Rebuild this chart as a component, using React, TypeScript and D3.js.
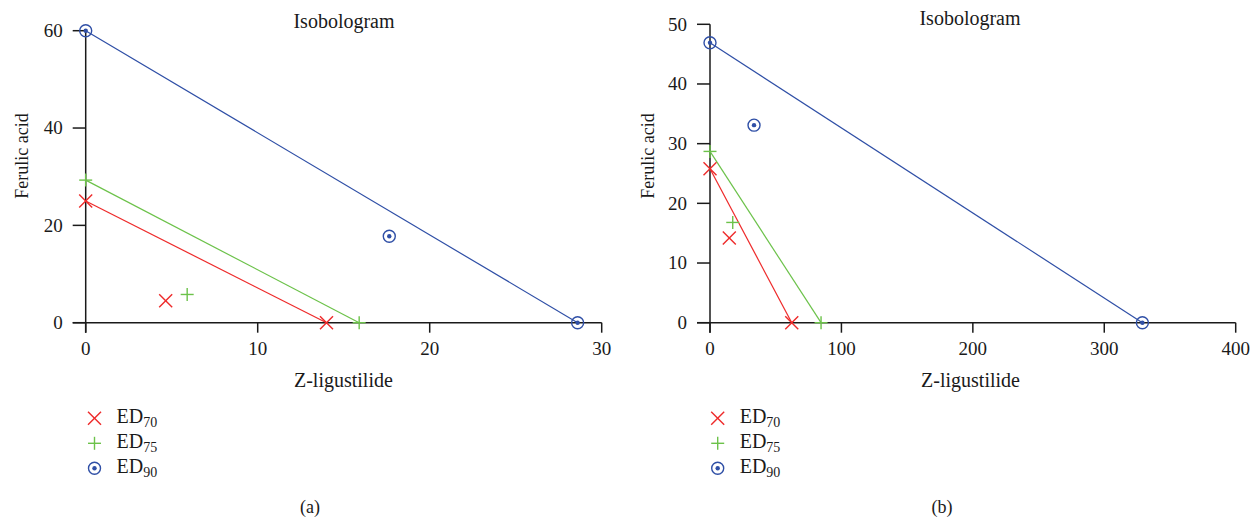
import * as d3 from 'd3'

const W = 1260
const H = 525
const FONT = "'Liberation Serif', 'DejaVu Serif', 'Times New Roman', serif"

const RED = '#ee2a2a'
const GREEN = '#6cc24a'
const BLUE = '#2f4fa6'
const AXIS = '#1a1a1a'

// Panel (a): isobole endpoints and combination points
const A_X_TICKS = [0, 10, 20, 30]
const A_Y_TICKS = [0, 20, 40, 60]
const A_ED70_LINE = [[0, 25], [14, 0]]
const A_ED75_LINE = [[0, 29.3], [15.9, 0]]
const A_ED90_LINE = [[0, 60], [28.6, 0]]
const A_ED70_PT = [4.65, 4.5]
const A_ED75_PT = [5.9, 5.8]
const A_ED90_PT = [17.65, 17.75]

// Panel (b)
const B_X_TICKS = [0, 100, 200, 300, 400]
const B_Y_TICKS = [0, 10, 20, 30, 40, 50]
const B_ED70_LINE = [[0, 25.8], [62.2, 0]]
const B_ED75_LINE = [[0, 28.7], [84.5, 0]]
const B_ED90_LINE = [[0, 46.9], [329, 0]]
const B_ED70_PT = [14.7, 14.2]
const B_ED75_PT = [17.3, 16.8]
const B_ED90_PT = [33.5, 33.1]

const LEGEND = [
  { kind: 'x', color: RED, sub: '70' },
  { kind: '+', color: GREEN, sub: '75' },
  { kind: 'o', color: BLUE, sub: '90' },
]

function Marker({ kind, x, y, color }: { kind: string; x: number; y: number; color: string }) {
  if (kind === 'x') {
    const s = 6.5
    return (
      <g stroke={color} strokeWidth={1.4}>
        <line x1={x - s} y1={y - s} x2={x + s} y2={y + s} />
        <line x1={x - s} y1={y + s} x2={x + s} y2={y - s} />
      </g>
    )
  }
  if (kind === '+') {
    const s = 6.5
    return (
      <g stroke={color} strokeWidth={1.4}>
        <line x1={x - s} y1={y} x2={x + s} y2={y} />
        <line x1={x} y1={y - s} x2={x} y2={y + s} />
      </g>
    )
  }
  return (
    <g>
      <circle cx={x} cy={y} r={6} fill="none" stroke={color} strokeWidth={1.4} />
      <circle cx={x} cy={y} r={2.2} fill={color} />
    </g>
  )
}

type PanelProps = {
  x0: number
  x1: number
  yTop: number
  xMax: number
  yMax: number
  xTicks: number[]
  yTicks: number[]
  lines: { pts: number[][]; color: string; kind: string }[]
  pts: { p: number[]; color: string; kind: string }[]
  titleX: number
  titleY: number
  labelX: number
  yLabelX: number
  legendX: number
  caption: string
  captionX: number
}

function Panel(p: PanelProps) {
  const x = d3.scaleLinear().domain([0, p.xMax]).range([p.x0, p.x1])
  const y = d3.scaleLinear().domain([0, p.yMax]).range([322.7, p.yTop])
  const bottom = y(0)
  const left = x(0)
  return (
    <g style={{ fontFamily: FONT }} fill="#1a1a1a">
      <text x={p.titleX} y={p.titleY} textAnchor="middle" fontSize={20}>Isobologram</text>

      {/* axes */}
      <line x1={left} y1={y(p.yMax)} x2={left} y2={bottom + 10} stroke={AXIS} strokeWidth={1.5} />
      <line x1={left - 13} y1={bottom} x2={x(p.xMax)} y2={bottom} stroke={AXIS} strokeWidth={1.5} />
      {p.yTicks.map((t) => (
        <g key={'y' + t}>
          <line x1={left - 13} x2={left} y1={y(t)} y2={y(t)} stroke={AXIS} strokeWidth={1.5} />
          <text x={left - 23} y={y(t)} dy="0.33em" textAnchor="end" fontSize={19}>{t}</text>
        </g>
      ))}
      {p.xTicks.map((t) => (
        <g key={'x' + t}>
          <line x1={x(t)} x2={x(t)} y1={bottom} y2={bottom + 10} stroke={AXIS} strokeWidth={1.5} />
          <text x={x(t)} y={bottom + 32.5} textAnchor="middle" fontSize={19}>{t}</text>
        </g>
      ))}
      <text x={p.labelX} y={386.7} textAnchor="middle" fontSize={20}>Z-ligustilide</text>
      <text transform={`translate(${p.yLabelX},156) rotate(-90)`} textAnchor="middle" fontSize={18}>Ferulic acid</text>

      {/* isoboles */}
      {p.lines.map((l, i) => (
        <path
          key={'l' + i}
          d={d3.line<number[]>().x((d) => x(d[0])).y((d) => y(d[1]))(l.pts) || ''}
          stroke={l.color}
          strokeWidth={1.2}
          fill="none"
        />
      ))}
      {p.lines.map((l, i) =>
        l.pts.map((d, j) => <Marker key={'m' + i + j} kind={l.kind} x={x(d[0])} y={y(d[1])} color={l.color} />)
      )}
      {p.pts.map((d, i) => (
        <Marker key={'p' + i} kind={d.kind} x={x(d.p[0])} y={y(d.p[1])} color={d.color} />
      ))}

      {/* legend */}
      {LEGEND.map((l, i) => (
        <g key={'lg' + i}>
          <Marker kind={l.kind} x={p.legendX} y={418.3 + i * 25} color={l.color} />
          <text x={p.legendX + 22} y={422.5 + i * 25} fontSize={20}>
            ED<tspan fontSize={14} dy={4}>{l.sub}</tspan>
          </text>
        </g>
      ))}

      <text x={p.captionX} y={513} textAnchor="middle" fontSize={18}>{p.caption}</text>
    </g>
  )
}

export default function App() {
  return (
    <svg
      width={W}
      height={H}
      viewBox={`0 0 ${W} ${H}`}
      style={{ position: 'absolute', left: 0, top: 0, background: '#fff' }}
    >
      <rect width={W} height={H} fill="#fff" />
      <Panel
        x0={85.7}
        x1={601.7}
        yTop={30.7}
        xMax={30}
        yMax={60}
        xTicks={A_X_TICKS}
        yTicks={A_Y_TICKS}
        lines={[
          { pts: A_ED90_LINE, color: BLUE, kind: 'o' },
          { pts: A_ED75_LINE, color: GREEN, kind: '+' },
          { pts: A_ED70_LINE, color: RED, kind: 'x' },
        ]}
        pts={[
          { p: A_ED70_PT, color: RED, kind: 'x' },
          { p: A_ED75_PT, color: GREEN, kind: '+' },
          { p: A_ED90_PT, color: BLUE, kind: 'o' },
        ]}
        titleX={344}
        titleY={28}
        labelX={343.4}
        yLabelX={28.3}
        legendX={94.5}
        caption="(a)"
        captionX={310}
      />
      <Panel
        x0={710}
        x1={1235.7}
        yTop={24.3}
        xMax={400}
        yMax={50}
        xTicks={B_X_TICKS}
        yTicks={B_Y_TICKS}
        lines={[
          { pts: B_ED90_LINE, color: BLUE, kind: 'o' },
          { pts: B_ED75_LINE, color: GREEN, kind: '+' },
          { pts: B_ED70_LINE, color: RED, kind: 'x' },
        ]}
        pts={[
          { p: B_ED70_PT, color: RED, kind: 'x' },
          { p: B_ED75_PT, color: GREEN, kind: '+' },
          { p: B_ED90_PT, color: BLUE, kind: 'o' },
        ]}
        titleX={970}
        titleY={25}
        labelX={970.5}
        yLabelX={654.3}
        legendX={717.7}
        caption="(b)"
        captionX={942}
      />
    </svg>
  )
}
